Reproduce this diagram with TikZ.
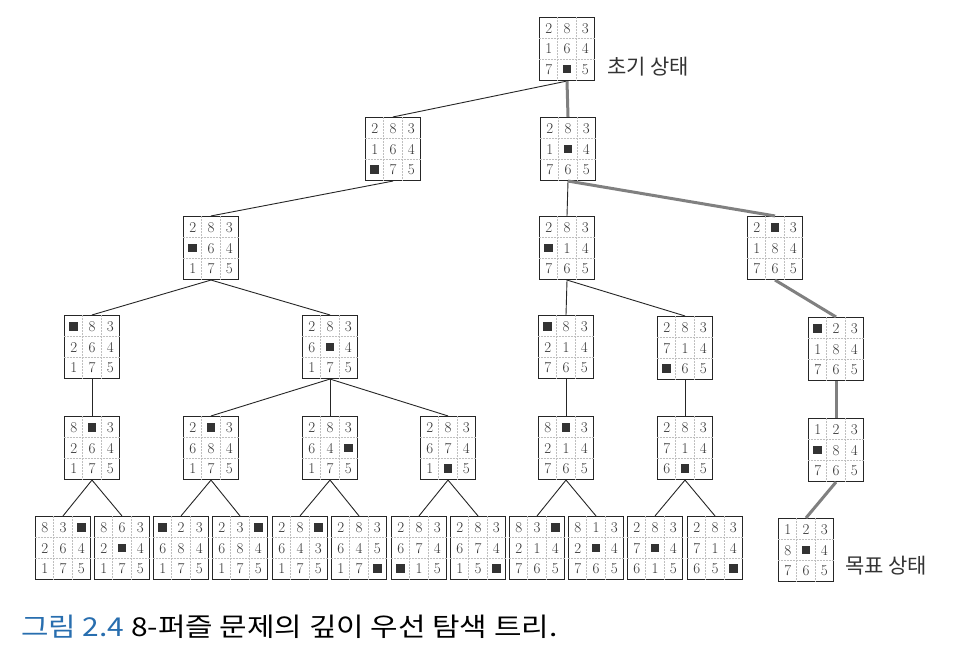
\documentclass[tikz,border=0pt]{standalone}
\usepackage{fontspec}
\newfontfamily\kfont{Noto Sans CJK KR}
\newfontfamily\capfont[FakeStretch=1.15]{Noto Sans CJK KR}
\usepackage{tikz}
\usetikzlibrary{calc}
\definecolor{capblue}{RGB}{40,110,175}

\tikzset{
  board/.style={draw=black!85, line width=1.1pt, fill=white,
    minimum width=55pt, minimum height=63pt, inner sep=0pt},
  cellline/.style={black!25, line width=0.5pt, densely dotted},
  digit/.style={inner sep=0pt, text=black!80, font=\fontsize{15}{15}\selectfont,
    text height=10pt, text depth=0pt},
  tree/.style={line width=0.9pt, black!85},
  solpath/.style={line width=3pt, black!50},
  statetext/.style={font=\kfont\fontsize{21}{21}\selectfont, text=black!80, inner sep=0pt}
}

\newcommand{\blank}{\raisebox{1pt}{\rule{8.5pt}{8.5pt}}}
% #1 name, #2 x, #3 y, #4 the nine tiles row by row
\newcommand{\puzzle}[4]{%
  \node[board] (#1) at (#2,#3) {};
  \foreach \f in {1,2} {
    \draw[cellline] ($(#1.north west)!\f/3!(#1.north east)$) -- ($(#1.south west)!\f/3!(#1.south east)$);
    \draw[cellline] ($(#1.north west)!\f/3!(#1.south west)$) -- ($(#1.north east)!\f/3!(#1.south east)$);
  }
  \foreach \t [count=\k from 0] in {#4} {
    \pgfmathtruncatemacro\cx{mod(\k,3)-1}
    \pgfmathtruncatemacro\cy{div(\k,3)-1}
    \node[digit] at ($(#1.center)+(\cx*18.3,\cy*20.5)$) {\t};
  }%
}

\begin{document}
\begin{tikzpicture}[x=1pt, y=-1pt]
\useasboundingbox[fill=white] (0,0) rectangle (966,658);

% level 0 and 1
\puzzle{init}{567}{49}{2,8,3,1,6,4,7,\blank,5}
\puzzle{l1a}{393}{149}{2,8,3,1,6,4,\blank,7,5}
\puzzle{l1b}{568}{149}{2,8,3,1,\blank,4,7,6,5}

% level 2
\puzzle{l2a}{211}{248}{2,8,3,\blank,6,4,1,7,5}
\puzzle{l2b}{567}{248}{2,8,3,\blank,1,4,7,6,5}
\puzzle{l2c}{775}{248}{2,\blank,3,1,8,4,7,6,5}

% level 3
\puzzle{l3a}{92}{347}{\blank,8,3,2,6,4,1,7,5}
\puzzle{l3b}{330}{347}{2,8,3,6,\blank,4,1,7,5}
\puzzle{l3c}{566}{347}{\blank,8,3,2,1,4,7,6,5}
\puzzle{l3d}{685}{348}{2,8,3,7,1,4,\blank,6,5}
\puzzle{l3e}{836}{349}{\blank,2,3,1,8,4,7,6,5}

% level 4
\puzzle{l4a}{92}{448}{8,\blank,3,2,6,4,1,7,5}
\puzzle{l4b}{211}{448}{2,\blank,3,6,8,4,1,7,5}
\puzzle{l4c}{330}{448}{2,8,3,6,4,\blank,1,7,5}
\puzzle{l4d}{448}{448}{2,8,3,6,7,4,1,\blank,5}
\puzzle{l4e}{566}{448}{8,\blank,3,2,1,4,7,6,5}
\puzzle{l4f}{685}{448}{2,8,3,7,1,4,6,\blank,5}
\puzzle{l4g}{836}{450}{1,2,3,\blank,8,4,7,6,5}

% level 5
\puzzle{l5a}{63}{548}{8,3,\blank,2,6,4,1,7,5}
\puzzle{l5b}{122}{548}{8,6,3,2,\blank,4,1,7,5}
\puzzle{l5c}{181}{548}{\blank,2,3,6,8,4,1,7,5}
\puzzle{l5d}{240}{548}{2,3,\blank,6,8,4,1,7,5}
\puzzle{l5e}{300}{548}{2,8,\blank,6,4,3,1,7,5}
\puzzle{l5f}{359}{548}{2,8,3,6,4,5,1,7,\blank}
\puzzle{l5g}{419}{548}{2,8,3,6,7,4,\blank,1,5}
\puzzle{l5h}{478}{548}{2,8,3,6,7,4,1,5,\blank}
\puzzle{l5i}{537}{548}{8,3,\blank,2,1,4,7,6,5}
\puzzle{l5j}{596}{548}{8,1,3,2,\blank,4,7,6,5}
\puzzle{l5k}{655}{548}{2,8,3,7,\blank,4,6,1,5}
\puzzle{l5l}{715}{548}{2,8,3,7,1,4,6,5,\blank}
\puzzle{goal}{806}{550}{1,2,3,8,\blank,4,7,6,5}

% edges
\foreach \p/\c in {init/l1a, l1a/l2a, l1b/l2b, l2a/l3a, l2a/l3b, l2b/l3c, l2b/l3d,
    l3a/l4a, l3b/l4b, l3b/l4c, l3b/l4d, l3c/l4e, l3d/l4f,
    l4a/l5a, l4a/l5b, l4b/l5c, l4b/l5d, l4c/l5e, l4c/l5f,
    l4d/l5g, l4d/l5h, l4e/l5i, l4e/l5j, l4f/l5k, l4f/l5l}
  \draw[tree] (\p.south) -- (\c.north);
\foreach \p/\c in {init/l1b, l1b/l2c, l2c/l3e, l3e/l4g, l4g/goal}
  \draw[solpath] (\p.south) -- (\c.north);

\node[statetext, anchor=west] (inittext) at (607,67) {초기 상태};
\node[statetext, anchor=west] (goaltext) at (845,566) {목표 상태};

\node[anchor=base west, inner sep=0pt, font=\capfont\fontsize{26}{26}\selectfont] (caption) at (21,636)
  {\textcolor{capblue}{그림 2.4}~8-퍼즐 문제의 깊이 우선 탐색 트리.};
\end{tikzpicture}
\end{document}
